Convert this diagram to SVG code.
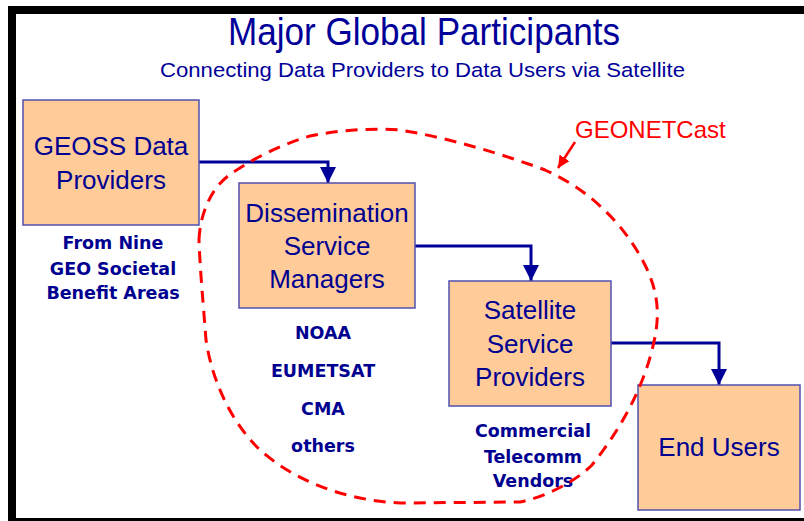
<svg xmlns="http://www.w3.org/2000/svg" width="804" height="521" viewBox="0 0 804 521">
<defs>
<style>
.box{fill:#FFCC99;stroke:#5050B0;stroke-width:1.5}
.lbl{font-family:"Liberation Sans",Arial,sans-serif;font-size:26px;fill:#000090;text-anchor:middle}
.sub{font-family:"DejaVu Sans",Verdana,sans-serif;font-weight:bold;font-size:17.5px;fill:#000090;text-anchor:middle}
.conn{fill:none;stroke:#000099;stroke-width:3}
</style>
<marker id="ah" markerUnits="userSpaceOnUse" markerWidth="16" markerHeight="16" refX="16" refY="8" orient="auto" viewBox="0 0 16 16">
<path d="M0,0 L16,8 L0,16 Z" fill="#000099"/>
</marker>
<marker id="rah" markerUnits="userSpaceOnUse" markerWidth="12" markerHeight="12" refX="12" refY="6" orient="auto" viewBox="0 0 12 12">
<path d="M0,0 L12,6 L0,12 Z" fill="#FF0000"/>
</marker>
</defs>
<rect x="0" y="0" width="804" height="521" fill="#FFFFFF"/>
<g id="frame" fill="#000000">
<rect x="8" y="6" width="796" height="8"/>
<rect x="8" y="6" width="8" height="515"/>
<rect x="8" y="518" width="796" height="3"/>
</g>
<g id="title">
<text x="228" y="45" font-family="'Liberation Sans',Arial,sans-serif" font-size="38" fill="#000099" textLength="392" lengthAdjust="spacingAndGlyphs">Major Global Participants</text>
<text x="160" y="77" font-family="'Liberation Sans',Arial,sans-serif" font-size="20.5" fill="#000099" textLength="525" lengthAdjust="spacingAndGlyphs">Connecting Data Providers to Data Users via Satellite</text>
</g>
<g id="connectors">
<path class="conn" d="M199,162 H328 V183" marker-end="url(#ah)"/>
<path class="conn" d="M415,246 H531 V281" marker-end="url(#ah)"/>
<path class="conn" d="M611,343 H719 V385" marker-end="url(#ah)"/>
</g>
<g id="geoss">
<rect class="box" x="23" y="100" width="176" height="125"/>
<text class="lbl" x="111" y="155">GEOSS Data</text>
<text class="lbl" x="111" y="189">Providers</text>
<text class="sub" x="113" y="249">From Nine</text>
<text class="sub" x="113" y="275">GEO Societal</text>
<text class="sub" x="113" y="299">Benefit Areas</text>
</g>
<g id="dissemination">
<rect class="box" x="239" y="183" width="176" height="125"/>
<text class="lbl" x="327" y="222">Dissemination</text>
<text class="lbl" x="327" y="255">Service</text>
<text class="lbl" x="327" y="288">Managers</text>
<text class="sub" x="323" y="339">NOAA</text>
<text class="sub" x="323" y="377">EUMETSAT</text>
<text class="sub" x="323" y="415">CMA</text>
<text class="sub" x="323" y="452">others</text>
</g>
<g id="satellite">
<rect class="box" x="449" y="281" width="162" height="125"/>
<text class="lbl" x="530" y="319">Satellite</text>
<text class="lbl" x="530" y="353">Service</text>
<text class="lbl" x="530" y="386">Providers</text>
<text class="sub" x="533" y="437">Commercial</text>
<text class="sub" x="533" y="463">Telecomm</text>
<text class="sub" x="533" y="487">Vendors</text>
</g>
<g id="endusers">
<rect class="box" x="638" y="385" width="162" height="125"/>
<text class="lbl" x="719" y="456">End Users</text>
</g>
<g id="geonetcast">
<path d="M199,240 C200,215 210,190 228,176 C250,160 280,145 310,136 C340,130 370,128 400,130 C450,138 505,155 545,170 C590,190 625,225 645,265 C660,295 660,320 652,350 C642,390 620,430 592,465 C575,482 545,497 520,502 L400,503 C340,500 290,478 258,448 C230,420 212,380 206,340 C203,300 200,270 199,240 Z" fill="none" stroke="#FF0000" stroke-width="3" stroke-dasharray="12,8"/>
<path d="M575,142 L558,168" fill="none" stroke="#FF0000" stroke-width="2.5" marker-end="url(#rah)"/>
<text x="575" y="138" font-family="'Liberation Sans',Arial,sans-serif" font-size="24" fill="#FF0000">GEONETCast</text>
</g>
</svg>
